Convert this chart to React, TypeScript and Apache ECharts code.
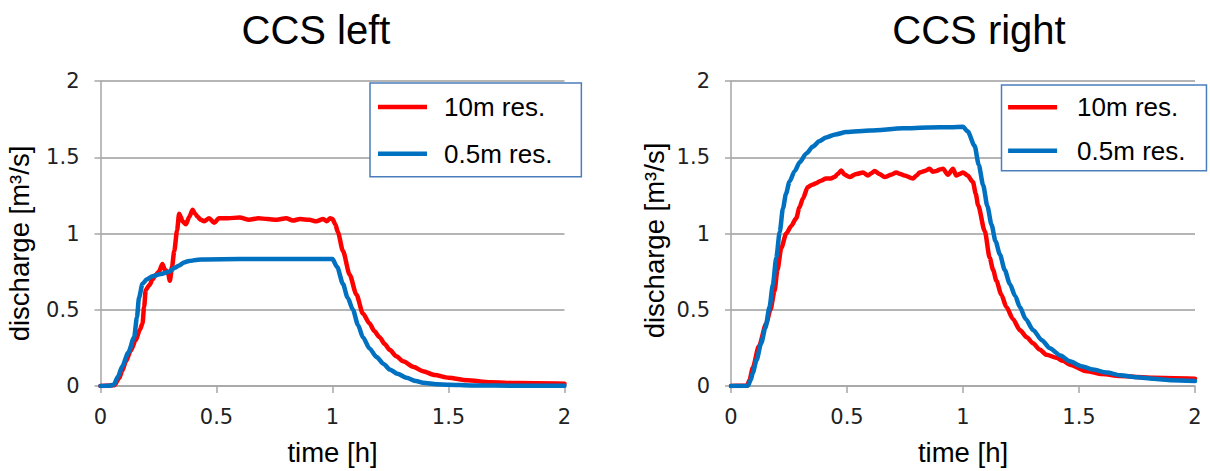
import React, { useEffect, useRef } from "react";
import * as echarts from "echarts";

// ---------- DATA ----------
const chartTitles = ["CCS left", "CCS right"];
const seriesNames = ["10m res.", "0.5m res."];
const xTicks = [0, 0.5, 1, 1.5, 2];
const yTicks = [0, 0.5, 1, 1.5, 2];

// CCS left – 10m res.
const leftRedT = [0, 0.06, 0.08, 0.094, 0.109, 0.13, 0.152, 0.17, 0.181, 0.188, 0.195, 0.21, 0.225, 0.238, 0.252, 0.267, 0.278, 0.29, 0.299, 0.308, 0.318, 0.33, 0.339, 0.346, 0.353, 0.368, 0.383, 0.397, 0.408, 0.418, 0.432, 0.447, 0.468, 0.49, 0.51, 0.55, 0.6, 0.64, 0.68, 0.72, 0.76, 0.8, 0.83, 0.86, 0.9, 0.93, 0.96, 0.975, 0.99, 1.0, 1.012, 1.023, 1.045, 1.074, 1.103, 1.131, 1.16, 1.18, 1.203, 1.225, 1.247, 1.275, 1.304, 1.35, 1.39, 1.44, 1.5, 1.58, 1.68, 1.8, 2.0];
const leftRedQ = [0, 0.005, 0.05, 0.1, 0.16, 0.23, 0.3, 0.37, 0.41, 0.52, 0.63, 0.66, 0.7, 0.73, 0.75, 0.8, 0.76, 0.75, 0.69, 0.78, 0.885, 1.02, 1.13, 1.11, 1.08, 1.06, 1.11, 1.155, 1.13, 1.11, 1.09, 1.08, 1.1, 1.07, 1.1, 1.1, 1.105, 1.09, 1.1, 1.095, 1.09, 1.1, 1.085, 1.095, 1.09, 1.08, 1.095, 1.08, 1.1, 1.095, 1.06, 1.01, 0.885, 0.73, 0.6, 0.475, 0.41, 0.36, 0.32, 0.275, 0.237, 0.195, 0.162, 0.125, 0.097, 0.072, 0.054, 0.038, 0.025, 0.019, 0.015];

// CCS left – 0.5m res.
const leftBlueT = [0, 0.04, 0.058, 0.075, 0.094, 0.12, 0.145, 0.157, 0.166, 0.181, 0.2, 0.224, 0.26, 0.296, 0.32, 0.339, 0.36, 0.382, 0.42, 0.45, 0.6, 0.8, 0.95, 1.0, 1.02, 1.045, 1.065, 1.088, 1.11, 1.131, 1.16, 1.19, 1.22, 1.247, 1.28, 1.319, 1.36, 1.39, 1.45, 1.5, 1.6, 1.8, 2.0];
const leftBlueQ = [0, 0.002, 0.01, 0.06, 0.13, 0.22, 0.32, 0.45, 0.58, 0.67, 0.7, 0.72, 0.735, 0.75, 0.775, 0.79, 0.81, 0.82, 0.828, 0.83, 0.832, 0.832, 0.832, 0.832, 0.78, 0.67, 0.58, 0.5, 0.4, 0.32, 0.245, 0.19, 0.145, 0.108, 0.08, 0.054, 0.032, 0.021, 0.012, 0.008, 0.004, 0.002, 0.001];

// CCS right – 10m res.
const rightRedT = [0, 0.07, 0.08, 0.094, 0.12, 0.152, 0.17, 0.188, 0.2, 0.217, 0.238, 0.26, 0.281, 0.295, 0.31, 0.331, 0.35, 0.367, 0.385, 0.41, 0.43, 0.446, 0.46, 0.475, 0.49, 0.511, 0.54, 0.569, 0.59, 0.605, 0.619, 0.64, 0.662, 0.69, 0.712, 0.73, 0.748, 0.784, 0.8, 0.813, 0.835, 0.856, 0.87, 0.885, 0.9, 0.914, 0.935, 0.957, 0.971, 0.985, 1.0, 1.02, 1.043, 1.055, 1.065, 1.094, 1.115, 1.13, 1.144, 1.165, 1.187, 1.215, 1.245, 1.275, 1.302, 1.33, 1.36, 1.403, 1.43, 1.461, 1.533, 1.6, 1.676, 1.82, 2.0];
const rightRedQ = [0, 0.003, 0.04, 0.12, 0.26, 0.41, 0.5, 0.625, 0.76, 0.906, 1.0, 1.05, 1.1, 1.17, 1.23, 1.305, 1.32, 1.33, 1.345, 1.36, 1.36, 1.37, 1.39, 1.413, 1.385, 1.37, 1.39, 1.4, 1.38, 1.395, 1.41, 1.39, 1.37, 1.385, 1.4, 1.39, 1.38, 1.36, 1.38, 1.4, 1.41, 1.424, 1.405, 1.41, 1.42, 1.424, 1.385, 1.424, 1.38, 1.39, 1.4, 1.38, 1.337, 1.26, 1.186, 1.014, 0.841, 0.76, 0.69, 0.6, 0.518, 0.44, 0.367, 0.32, 0.28, 0.24, 0.205, 0.185, 0.165, 0.14, 0.097, 0.078, 0.065, 0.054, 0.047];

// CCS right – 0.5m res.
const rightBlueT = [0, 0.073, 0.085, 0.094, 0.11, 0.13, 0.148, 0.166, 0.18, 0.195, 0.21, 0.224, 0.237, 0.252, 0.275, 0.296, 0.325, 0.353, 0.38, 0.41, 0.45, 0.497, 0.6, 0.742, 0.85, 0.95, 1.0, 1.02, 1.05, 1.068, 1.087, 1.105, 1.123, 1.14, 1.159, 1.18, 1.202, 1.225, 1.245, 1.27, 1.302, 1.34, 1.374, 1.42, 1.461, 1.51, 1.561, 1.62, 1.676, 1.75, 1.82, 1.9, 2.0];
const rightBlueQ = [0, 0.002, 0.04, 0.086, 0.17, 0.28, 0.38, 0.518, 0.66, 0.84, 1.01, 1.165, 1.26, 1.34, 1.41, 1.467, 1.525, 1.57, 1.605, 1.63, 1.65, 1.665, 1.675, 1.69, 1.695, 1.697, 1.7, 1.67, 1.575, 1.45, 1.316, 1.18, 1.057, 0.95, 0.863, 0.76, 0.669, 0.59, 0.518, 0.44, 0.367, 0.3, 0.248, 0.2, 0.162, 0.13, 0.108, 0.088, 0.071, 0.057, 0.047, 0.038, 0.032];

const pairs = (t: number[], q: number[]) => t.map((x, i) => [x, q[i]]);

const RED = "#FF0000";
const BLUE = "#0070C0";
const GRID_COLOR = "#9c9c9c";
const AXIS_COLOR = "#a6a6a6";

export default function App() {
  const ref = useRef<HTMLDivElement>(null);

  useEffect(() => {
    if (!ref.current) return;
    const chart = echarts.init(ref.current, undefined, { renderer: "svg" });

    const grids = [
      { left: 100.5, top: 81, width: 464, height: 309 },
      { left: 731, top: 81, width: 464, height: 309 },
    ];

    const makeX = (gi: number) => ({
      gridIndex: gi,
      type: "value",
      min: xTicks[0],
      max: xTicks[xTicks.length - 1],
      interval: 0.5,
      name: "time [h]",
      nameLocation: "middle",
      nameGap: 52,
      nameTextStyle: { fontFamily: "Liberation Sans", fontSize: 27.5, color: "#000" },
      axisLine: { show: true, lineStyle: { color: AXIS_COLOR, width: 1.5 } },
      axisTick: { show: true, length: 7, lineStyle: { color: AXIS_COLOR, width: 1.5 } },
      axisLabel: { margin: 20, fontFamily: "DejaVu Sans", fontSize: 21, color: "#222" },
      splitLine: { show: false },
    });

    const makeY = (gi: number, gap: number, pad: number) => ({
      gridIndex: gi,
      type: "value",
      min: yTicks[0],
      max: yTicks[yTicks.length - 1],
      interval: 0.5,
      name: "discharge [m³/s]",
      nameLocation: "middle",
      nameGap: gap,
      nameTextStyle: {
        fontFamily: "Liberation Sans",
        fontSize: 27.5,
        color: "#000",
        padding: [0, pad, 0, 0],
      },
      axisLine: { show: true, lineStyle: { color: AXIS_COLOR, width: 1.5 } },
      axisTick: { show: true, length: 6, lineStyle: { color: AXIS_COLOR, width: 1.5 } },
      axisLabel: { margin: 21, fontFamily: "DejaVu Sans", fontSize: 21, color: "#222" },
      splitLine: { show: true, lineStyle: { color: GRID_COLOR, width: 1.5 } },
    });

    const lineSeries = (name: string, gi: number, data: number[][], color: string) => ({
      name,
      type: "line",
      xAxisIndex: gi,
      yAxisIndex: gi,
      data,
      showSymbol: false,
      symbol: "none",
      smooth: 0.25,
      smoothMonotone: "x",
      color,
      lineStyle: { color, width: 4.5, join: "round", cap: "round" },
    });

    const legendBase = {
      orient: "vertical",
      data: seriesNames,
      icon: "rect",
      itemWidth: 49,
      itemHeight: 4.5,
      borderColor: "#4A7EBB",
      borderWidth: 1.5,
      backgroundColor: "#fff",
      textStyle: { fontFamily: "Liberation Sans", fontSize: 26, color: "#000", lineHeight: 30 },
    };

    chart.setOption({
      animation: false,
      backgroundColor: "#fff",
      title: [
        {
          text: chartTitles[0],
          left: 316,
          top: 10,
          textAlign: "center",
          padding: 0,
          textStyle: { fontFamily: "Liberation Sans", fontSize: 40, fontWeight: "normal", color: "#000", lineHeight: 40 },
        },
        {
          text: chartTitles[1],
          left: 979,
          top: 10,
          textAlign: "center",
          padding: 0,
          textStyle: { fontFamily: "Liberation Sans", fontSize: 40, fontWeight: "normal", color: "#000", lineHeight: 40 },
        },
      ],
      legend: [
        {
          ...legendBase,
          left: 370,
          top: 83,
          itemGap: 16.7,
          padding: [9, 29, 8, 8],
          textStyle: { ...legendBase.textStyle, padding: [0, 0, 0, 12] },
        },
        {
          ...legendBase,
          left: 1001.5,
          top: 85,
          itemGap: 13.4,
          padding: [7.3, 21, 5, 6.6],
          textStyle: { ...legendBase.textStyle, padding: [0, 0, 0, 15] },
        },
      ],
      grid: grids,
      xAxis: [makeX(0), makeX(1)],
      yAxis: [makeY(0, 67, 20), makeY(1, 63, 14)],
      series: [
        lineSeries(seriesNames[0], 0, pairs(leftRedT, leftRedQ), RED),
        lineSeries(seriesNames[1], 0, pairs(leftBlueT, leftBlueQ), BLUE),
        lineSeries(seriesNames[0], 1, pairs(rightRedT, rightRedQ), RED),
        lineSeries(seriesNames[1], 1, pairs(rightBlueT, rightBlueQ), BLUE),
      ],
    });

    return () => chart.dispose();
  }, []);

  return (
    <div
      ref={ref}
      style={{ position: "absolute", left: 0, top: 0, width: 1210, height: 471 }}
    />
  );
}
